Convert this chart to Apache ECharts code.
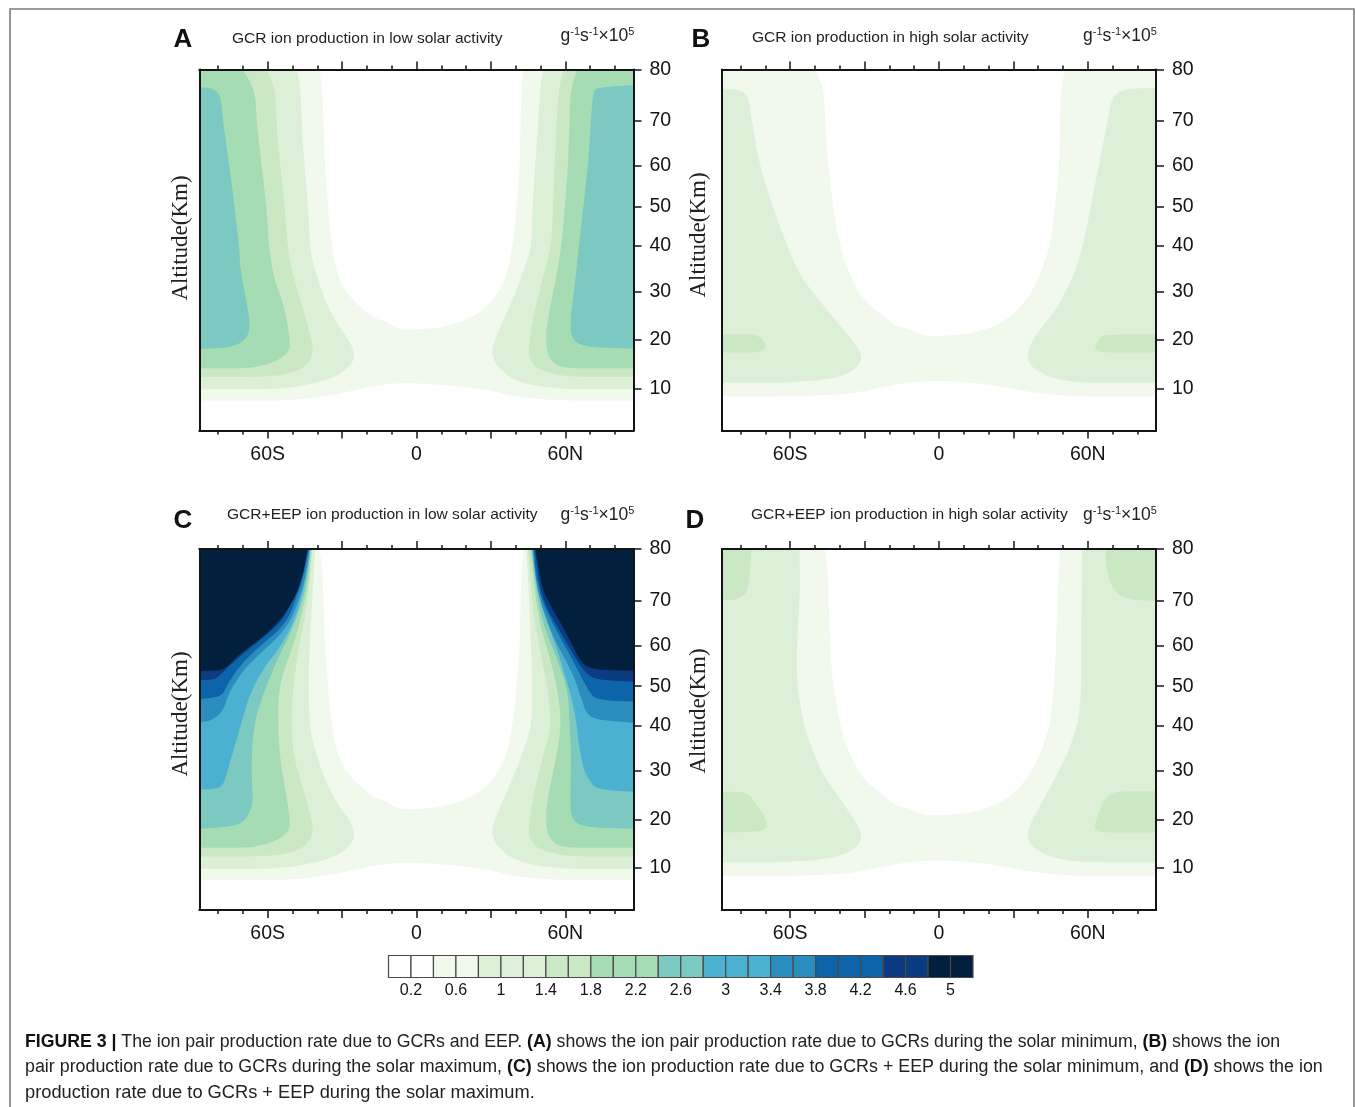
<!DOCTYPE html>
<html><head><meta charset="utf-8"><style>html,body{margin:0;padding:0;background:#fff}#c{width:1355px;height:1107px}</style>
<script src="https://cdn.jsdelivr.net/npm/echarts@6/dist/echarts.min.js"></script></head><body><div id="c"></div>
<script>
// Axis data
const altitudeTicks = [10,20,30,40,50,60,70,80];
const altitudeLevels = [11.6,25.1,38.5,51.1,62,73.3,85.7,100]; // the model's non-uniform vertical levels, 0-100
const latMajor = [-60,-30,0,30,60];
const latMinor = [-80,-70,-50,-40,-20,-10,10,20,40,50,70,80];
const latLabels = {'-60':'60S','0':'0','60':'60N'};
const colorbarTicks = [0.2,0.6,1,1.4,1.8,2.2,2.6,3,3.4,3.8,4.2,4.6,5];
const colorbarEdges = [0,0.2,0.4,0.6,0.8,1,1.2,1.4,1.6,1.8,2,2.2,2.4,2.6,2.8,3,3.2,3.4,3.6,3.8,4,4.2,4.4,4.6,4.8,5,5.2];
const bandFloors = [0.4,0.8,1.4,1.8,2.4,2.8,3.4,3.8,4.4,4.8];
const bandColors = ['#f1f9ed','#dcf0d8','#c9e8c3','#a5dcb4','#7cc9c1','#4cb1d1','#2b8cbe','#0d64a8','#0b3b80','#021f3d'];

// Contours: [latitude, altitude km]
const E=87.5;
const gcrLowOuter04=[[-39.2,80],[-37.9,76],[-37.6,70.2],[-36.9,60.5],[-35.6,49],[-34.2,40],[-32.2,34.1],[-28.2,29.7],[-22.8,26.9],[-17.4,24.5],[-12.1,23.8],[-8,22.2],[0,22.1],[10.7,22.6],[20.1,24.1],[28.2,26.6],[33.6,30.3],[36.9,34.5],[38.7,40],[40.3,49],[41.6,60],[42.3,76],[43.2,80],[E,80],[E,7.55],[56.4,7.55],[38.9,8.4],[30.9,9.5],[17.4,10.5],[4,11],[-6.7,11.2],[-17.4,10.5],[-28.2,9.25],[-41.6,8.1],[-52.3,7.55],[-E,7.55],[-E,80]];
const lowL08Lower=[[-41.6,35.9],[-37.6,29],[-32.2,23.4],[-26.8,19.7],[-24.8,16.9],[-26.2,14.9],[-32.2,12.5],[-40.3,11.2],[-52.3,10.1],[-63.1,9.8],[-E,9.8],[-E,80]];
const lowR08Lower=[[44.3,36.3],[40.3,30.3],[35.6,24.8],[31.5,20],[30.2,17.3],[32.2,14.6],[38.9,11.8],[48.3,10.5],[61.7,9.8],[E,9.8],[E,80]];
const lowL14Lower=[[-49.7,33.3],[-45.6,26.2],[-41.6,18.6],[-42.3,16.3],[-45.6,14.2],[-52.3,12.9],[-63.1,12.4],[-E,12.4],[-E,80]];
const lowR14Lower=[[51,33.3],[47,24.8],[45,17.9],[46.3,15.2],[51,13.5],[61.7,12.4],[E,12.4],[E,80]];
const lowL18Lower=[[-53,26.4],[-51,20],[-51.3,17.6],[-56.4,15.6],[-65.8,14.2],[-E,14.2],[-E,80]];
const lowR18Lower=[[52.3,22.7],[52.3,17.9],[54.4,15.6],[59,14.2],[E,14.2],[E,80]];

const a08L=[[-48.1,80],[-46.7,76],[-46.3,68.7],[-45,58.9],[-43.6,49.2],[-43,40],...lowL08Lower];
const a08R=[[51,80],[49.7,76],[49,68.7],[47.7,58.9],[46.7,49.2],[46.3,40],...lowR08Lower];
const a14L=[[-60.4,80],[-56.8,76],[-56.4,68.7],[-55,60.5],[-53,49.2],[-52.1,40],...lowL14Lower];
const a14R=[[59.3,80],[57.3,76],[56.4,68.7],[55.7,60.5],[55,49.2],[54.4,40],...lowR14Lower];
const a18L=[[-70.1,80],[-65.1,76],[-64.4,69.5],[-62.4,59.8],[-60.4,49.2],[-59.5,40],[-57.7,33.3],...lowL18Lower];
const a18R=[[64.8,80],[62,76],[61.7,69.5],[61.1,59.8],[59.7,49.2],[58.4,40],[56.4,33.3],...lowR18Lower];
const a24L=[[-E,76.6],[-79.2,76.1],[-77.9,69.5],[-74.5,55.7],[-71.5,40],[-71.1,34.8],[-67.1,24.1],[-67.8,20.7],[-72.5,18.8],[-79.2,18.3],[-E,18.2]];
const a24R=[[E,77],[72.5,76.5],[71.1,75.4],[69.1,59.8],[65.5,40],[64.4,34.1],[62,24.1],[62.4,20.3],[67.1,18.6],[E,18.2]];

const highLower04=[[E,80],[E,8.4],[54.1,8.4],[36.6,9.25],[23.2,10.6],[8.5,11.5],[-7.7,11.6],[-18.4,10.7],[-37.2,8.8],[-60,8.4],[-E,8.4],[-E,80]];
const highBowl=[[-39.9,40],[-35.8,33.3],[-30.5,28.3],[-23.8,25.5],[-17,22.7],[-12.3,22.4],[-7,20.9],[0.4,20.8],[11.1,21.2],[21.9,22.6],[29.9,25.2],[35.3,28.3],[40,32.6],[43.4,37.8],[44.7,40]];
const b04=[[-49.9,80],[-46.3,76],[-45.9,69.5],[-44.6,59.8],[-42.6,49.2],...highBowl,[46.7,49.2],[48.5,59.8],[49,75.4],[50.7,80],...highLower04];
const b08L=[[-E,76.3],[-77,76],[-75.4,69.5],[-72.1,59.8],[-66.7,49.2],[-61.1,40],[-56,33.3],[-45.2,26.2],[-37.2,21.4],[-31.1,17.3],[-31.8,14.9],[-37.2,12.9],[-46.6,11.7],[-64,11.2],[-E,11.2]];
const b08R=[[E,76.5],[70.2,76.1],[67.5,68.7],[63.5,57.3],[58.1,40],[54.1,33.3],[47.4,26.2],[39.3,21.4],[35.3,17.3],[36.6,14.6],[44.7,12.2],[56.8,11.2],[E,11.2]];
const b14L=[[-E,21.2],[-77.4,21.2],[-71.7,20.7],[-69.4,18.5],[-71.7,17.4],[-E,17.4]];
const b14R=[[E,21.2],[66.8,21.1],[64.6,20.3],[62.6,18.3],[64.2,17.4],[E,17.4]];

const c08L=[[-40.9,80],[-41.6,73.3],[-43,61.1],[-43.6,49.2],[-43,40],...lowL08Lower];
const c08R=[[44.3,80],[45.6,68.5],[46.3,57.2],[46.7,49],[46.3,40],...lowR08Lower];
const c14L=[[-42,80],[-43,73.3],[-45,66.3],[-47.7,58.8],[-49.9,49],[-50.3,40],...lowL14Lower];
const c14R=[[45,80],[46.3,72],[47.7,64.8],[50.3,57.2],[53,49],[54.4,40],...lowR14Lower];
const c18L=[[-42.3,80],[-43.6,73.3],[-45.6,68.5],[-49,61.1],[-54.4,52.3],[-55.7,47.3],[-55.7,40],[-55.3,33.9],...lowL18Lower];
const c18R=[[45.9,80],[47.7,72],[49.7,64.8],[53.7,57.2],[57,49],[58.4,40],[56.4,33.3],...lowR18Lower];
const c24L=[[-42.6,80],[-44.3,73.3],[-46.3,69.3],[-50.3,63.3],[-57,55.5],[-63.1,45.7],[-65.1,41],[-66.4,35.4],[-66.4,26.8],[-65.8,24],[-67.8,20.5],[-72.5,18.6],[-E,18.1],[-E,80]];
const c24R=[[46.3,80],[48.3,72],[51,64.8],[56.4,57.2],[61.1,49],[61.7,40.6],[62.4,33.9],[62,24],[62.4,20.2],[67.1,18.4],[E,18.1],[E,80]];
const c28L=[[-42.8,80],[-44,75.9],[-46.3,70.7],[-49.7,64.8],[-55,59.6],[-61.7,54.3],[-67.1,48.2],[-70.5,41],[-72.5,36.9],[-75.8,30.9],[-77.9,26.8],[-82.6,26.2],[-E,26.2],[-E,80]];
const c28R=[[46.7,80],[47.7,75.9],[49.7,70.7],[53,64.8],[57.7,57.2],[62.4,47.3],[64.4,41.3],[65.1,36.9],[67.4,30.1],[69.8,28.1],[72.5,26.2],[E,25.7],[E,80]];
const c34L=[[-43.1,80],[-44.7,74.6],[-47,70.7],[-51,65.2],[-56.4,61.5],[-63.1,58],[-69.8,54],[-75.8,48.2],[-77.9,43.6],[-83.2,41.1],[-E,40.9],[-E,80]];
const c34R=[[47,80],[47.7,75.3],[49.7,70],[55,61.9],[63.1,53.1],[67.1,45.7],[68.5,43.2],[71.8,41.5],[E,40.7],[E,80]];
const c38L=[[-43.4,80],[-45.6,74.6],[-48.3,70.7],[-51.7,65.9],[-57,62.6],[-64.4,59.2],[-71.1,55.1],[-76.5,50.2],[-78.5,47.3],[-E,46.7],[-E,80]];
const c38R=[[47.2,80],[48.3,74.6],[51,69.3],[56.4,63.3],[63.8,55.5],[69.1,49],[72.5,46.5],[E,46.1],[E,80]];
const c44L=[[-43.6,80],[-47,73.9],[-50.3,70],[-53.7,65.9],[-59.1,63],[-65.8,60],[-72.5,56.7],[-77.9,53.5],[-81.2,51.6],[-E,51.5],[-E,80]];
const c44R=[[47.7,80],[49.7,72.6],[52.3,68.5],[57.7,63.3],[63.8,57.2],[67.8,53.5],[72.5,51.5],[E,51.1],[E,80]];
const c48L=[[-43.9,80],[-45.6,75.3],[-48.3,71.3],[-52.6,67.4],[-57.7,64.1],[-63.8,61.1],[-71.1,58],[-77.2,54.3],[-80.5,53.8],[-E,53.8],[-E,80]];
const c48R=[[47.9,80],[49.7,75.3],[51,72],[54.4,68.5],[59.1,64.1],[63.8,58.8],[67.1,55.2],[72.5,54],[E,53.8],[E,80]];

const d04=[[-45.9,80],[-44.6,74.6],[-44.3,64.8],[-43.2,52.3],...highBowl,[46.7,52.3],[47.7,68.5],[48.7,80],...highLower04];
const d08L=[[-56.2,80],[-56,72],[-57.3,59.6],[-57.3,50.7],[-54.6,40],[-47.9,30.1],[-37.2,22.3],[-31.1,17.5],[-31.8,14.9],[-37.2,12.9],[-46.6,11.7],[-64,11.2],[-E,11.2],[-E,80]];
const d08R=[[57.7,80],[57.4,68.5],[57.4,49.8],[56.1,40],[50,31.6],[43.4,25.3],[35.3,17.8],[36.6,14.6],[44.7,12.2],[56.8,11.2],[E,11.2],[E,80]];
const d14TopL=[[-E,80],[-75.7,80],[-76.1,75.3],[-77.4,71.3],[-82.1,70.1],[-E,70.1]];
const d14TopR=[[E,80],[67.2,80],[67.5,75.3],[72.2,70.4],[E,69.9]];
const d14LowL=[[-E,25.7],[-77.4,25.7],[-74.1,23.3],[-70.1,20.5],[-69.1,18.5],[-71.4,17.5],[-E,17.3]];
const d14LowR=[[E,25.8],[72.2,25.8],[67.5,25],[64.2,21.2],[62.4,18.2],[64.2,17.3],[E,17.3]];

const panels=[
 {left:199.5,top:69.5,bands:[[0,gcrLowOuter04],[1,a08L],[1,a08R],[2,a14L],[2,a14R],[3,a18L],[3,a18R],[4,a24L],[4,a24R]],
  letter:'A',lx:183,ly:40,title:'GCR ion production in low solar activity',tx:232,ty:38,ylx:181,yly:238},
 {left:722,top:69.5,bands:[[0,b04],[1,b08L],[1,b08R],[2,b14L],[2,b14R]],
  letter:'B',lx:701,ly:40,title:'GCR ion production in high solar activity',tx:752,ty:37,ylx:699,yly:235},
 {left:199.5,top:549,bands:[[0,gcrLowOuter04],[1,c08L],[1,c08R],[2,c14L],[2,c14R],[3,c18L],[3,c18R],[4,c24L],[4,c24R],[5,c28L],[5,c28R],[6,c34L],[6,c34R],[7,c38L],[7,c38R],[8,c44L],[8,c44R],[9,c48L],[9,c48R]],
  letter:'C',lx:183,ly:521,title:'GCR+EEP ion production in low solar activity',tx:227,ty:514,ylx:181,yly:714},
 {left:722,top:549,bands:[[0,d04],[1,d08L],[1,d08R],[2,d14TopL],[2,d14TopR],[2,d14LowL],[2,d14LowR]],
  letter:'D',lx:695,ly:521,title:'GCR+EEP ion production in high solar activity',tx:751,ty:514,ylx:699,yly:711}
];

function altToLevel(a){
  const T=altitudeTicks,L=altitudeLevels;
  let i=0; while(i<T.length-2 && a>T[i+1]) i++;
  return L[i]+(a-T[i])*(L[i+1]-L[i])/(T[i+1]-T[i]);
}
const colorFor=v=>{let c='#ffffff';bandFloors.forEach((f,i)=>{if(v>=f-1e-9)c=bandColors[i]});return c};
// Soften interior contour corners on screen; vertices lying on the plot frame stay put.
function softenContour(pts,pinned){
  for(let it=0;it<2;it++){
    const out=[],pin=[],n=pts.length;
    pts.forEach((p,i)=>{
      if(pinned[i]){out.push(p);pin.push(true);return;}
      const a=pts[(i+n-1)%n],b=pts[(i+1)%n];
      const cut=(q)=>{const dx=q[0]-p[0],dy=q[1]-p[1],len=Math.hypot(dx,dy)||1,t=Math.min(0.25,9/len);return [p[0]+dx*t,p[1]+dy*t]};
      out.push(cut(a),cut(b));pin.push(false,false);
    });
    pts=out;pinned=pin;
  }
  return pts;
}

const INK='#141414', SANS='"Liberation Sans",Arial,sans-serif', SERIF='"Liberation Serif",serif';
const W=434,H=361;
const grid=[],xAxis=[],yAxis=[],series=[],graphic=[];
panels.forEach((p,g)=>{
  grid.push({left:p.left,top:p.top,width:W,height:H,containLabel:false});
  const xbase=(position,custom,len,label)=>({type:'value',gridIndex:g,position,min:-87.5,max:87.5,z:6,splitLine:{show:false},
    axisLine:{show:true,onZero:false,lineStyle:{color:INK,width:2}},
    axisTick:{show:true,length:len,customValues:custom,lineStyle:{color:INK,width:1.5}},
    axisLabel:label?{show:true,customValues:[-60,0,60],margin:14,fontSize:19.5,fontFamily:SANS,color:INK,formatter:v=>latLabels[String(v)]||''}:{show:false}});
  const base=xAxis.length;
  xAxis.push(xbase('bottom',latMajor,8,true),xbase('bottom',latMinor,4,false),xbase('top',latMajor,8,false),xbase('top',latMinor,4,false));
  const ybase=yAxis.length;
  yAxis.push({type:'value',gridIndex:g,position:'right',min:0,max:100,z:6,splitLine:{show:false},
    axisLine:{show:true,onZero:false,lineStyle:{color:INK,width:2}},
    axisTick:{show:true,length:8,customValues:altitudeLevels,lineStyle:{color:INK,width:1.5}},
    axisLabel:{show:true,customValues:altitudeLevels,margin:16,padding:[2,0,0,0],fontSize:19.5,fontFamily:SANS,color:INK,
      formatter:v=>{const i=altitudeLevels.indexOf(v);return i<0?'':String(altitudeTicks[i])}}},
   {type:'value',gridIndex:g,position:'left',min:0,max:100,z:6,splitLine:{show:false},
    axisLine:{show:true,onZero:false,lineStyle:{color:INK,width:2}},axisTick:{show:false},axisLabel:{show:false}});
  series.push({type:'custom',coordinateSystem:'cartesian2d',xAxisIndex:base,yAxisIndex:ybase,z:2,silent:true,animation:false,clip:true,
    data:p.bands.map((b,i)=>[i]),
    renderItem:(params,api)=>{
      const b=p.bands[params.dataIndex];
      const pts=b[1].map(q=>api.coord([q[0],altToLevel(q[1])]));
      const pin=b[1].map(q=>Math.abs(q[0])>=E||q[1]>=80);
      return {type:'polygon',shape:{points:softenContour(pts,pin)},style:{fill:bandColors[b[0]],stroke:null}};
    }});
  graphic.push({type:'text',x:p.lx,y:p.ly,style:{text:p.letter,font:'bold 26px '+SANS,fill:'#111',textAlign:'center',textVerticalAlign:'middle'}});
  graphic.push({type:'text',x:p.tx,y:p.ty+1,style:{text:p.title,font:'15.55px '+SANS,fill:'#222',textVerticalAlign:'middle'}});
  graphic.push({type:'text',x:p.left+361,y:g<2?36:515,style:{text:'g{s|-1}s{s|-1}×10{s|5}',fontSize:17.5,fontFamily:SANS,fill:'#222',textVerticalAlign:'middle',
    rich:{s:{fontSize:11,fontFamily:SANS,verticalAlign:'top',lineHeight:20,fill:'#222'}}}});
  graphic.push({type:'text',x:p.ylx,y:p.yly,rotation:Math.PI/2,style:{text:'Altitude(Km)',font:'23px '+SERIF,fill:'#222',textAlign:'center',textVerticalAlign:'middle'}});
});

// colour bar
const cbIndex=grid.length, cbX=xAxis.length, cbY=yAxis.length;
grid.push({left:388.5,top:955.5,width:584.5,height:22});
xAxis.push({type:'value',gridIndex:cbIndex,min:0,max:5.2,position:'bottom',axisLine:{show:false},axisTick:{show:false},splitLine:{show:false},
  axisLabel:{show:true,customValues:colorbarTicks,margin:5,fontSize:16,fontFamily:SANS,color:INK,formatter:v=>String(v)}});
yAxis.push({type:'value',gridIndex:cbIndex,min:0,max:1,show:false});
series.push({type:'custom',coordinateSystem:'cartesian2d',xAxisIndex:cbX,yAxisIndex:cbY,silent:true,animation:false,
  data:colorbarEdges.slice(0,-1).map((e,i)=>[e,colorbarEdges[i+1]]),
  renderItem:(params,api)=>{
    const a=api.value(0),b=api.value(1),p0=api.coord([a,1]),p1=api.coord([b,0]);
    return {type:'rect',shape:{x:p0[0],y:p0[1],width:p1[0]-p0[0],height:p1[1]-p0[1]},style:{fill:colorFor(a),stroke:'#4a4a4a',lineWidth:1.2}};
  }});

// caption + page frame
[[1042,17.7,'{b|FIGURE 3 |} The ion pair production rate due to GCRs and EEP. {b|(A)} shows the ion pair production rate due to GCRs during the solar minimum, {b|(B)} shows the ion'],
 [1067,17.85,'pair production rate due to GCRs during the solar maximum, {b|(C)} shows the ion production rate due to GCRs + EEP during the solar minimum, and {b|(D)} shows the ion'],
 [1093,18.25,'production rate due to GCRs + EEP during the solar maximum.']].forEach(l=>{
  graphic.push({type:'text',x:25,y:l[0],style:{text:l[2],fontSize:l[1],fontFamily:SANS,fill:'#222',textVerticalAlign:'middle',
    rich:{b:{fontSize:l[1],fontFamily:SANS,fontWeight:'bold',fill:'#111'}}}});
});
graphic.push({type:'rect',z:-1,shape:{x:10,y:9,width:1344,height:1120},style:{fill:null,stroke:'#7d7d7d',lineWidth:1.6}});

const chart=echarts.init(document.getElementById('c'),null,{renderer:'canvas'});
chart.setOption({animation:false,backgroundColor:'#fff',grid,xAxis,yAxis,series,graphic});
</script></body></html>
